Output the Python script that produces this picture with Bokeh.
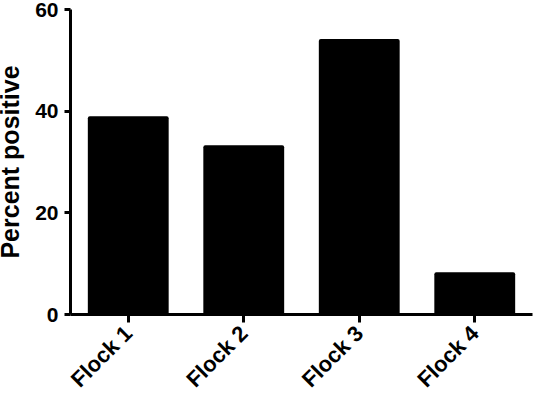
import math
from bokeh.plotting import figure
from bokeh.models import FixedTicker, Range1d
from bokeh.embed import file_html
from bokeh.resources import INLINE

flocks = ["Flock 1", "Flock 2", "Flock 3", "Flock 4"]
percent_positive = [39.0, 33.3, 54.2, 8.3]
y_ticks = [0, 20, 40, 60]

FONT = "Liberation Sans"

p = figure(
    x_range=flocks,
    y_range=Range1d(0, 60),
    width=542, height=403,
    output_backend="svg",
    toolbar_location=None,
    min_border_left=78, min_border_right=2,
    min_border_top=9, min_border_bottom=88,
    styles={"margin-left": "-8px"},
)
p.vbar(x=flocks, top=percent_positive, width=0.7, fill_color="black",
       line_color=None, border_radius=2)

p.outline_line_color = None
p.xgrid.grid_line_color = None
p.ygrid.grid_line_color = None
p.background_fill_color = "white"

for ax in (p.xaxis[0], p.yaxis[0]):
    ax.axis_line_width = 3
    ax.axis_line_color = "black"
    ax.major_tick_line_width = 3
    ax.major_tick_line_color = "black"
    ax.major_tick_in = 0
    ax.minor_tick_line_color = None
    ax.major_label_text_font = FONT
    ax.major_label_text_font_style = "bold"
    ax.major_label_text_color = "black"

p.yaxis.ticker = FixedTicker(ticks=y_ticks)
p.yaxis.major_tick_out = 6
p.yaxis.major_label_standoff = 6
p.yaxis.major_label_text_font_size = "21px"
p.yaxis.axis_label = "Percent positive"
p.yaxis.axis_label_text_font = FONT
p.yaxis.axis_label_text_font_style = "bold"
p.yaxis.axis_label_text_font_size = "25px"
p.yaxis.axis_label_text_color = "black"
p.yaxis.axis_label_standoff = 8

p.xaxis.major_tick_out = 8
p.xaxis.major_label_standoff = 7
p.xaxis.major_label_text_font_size = "22px"
p.xaxis.major_label_orientation = math.pi / 4

open("out.html", "w").write(file_html(p, INLINE))
